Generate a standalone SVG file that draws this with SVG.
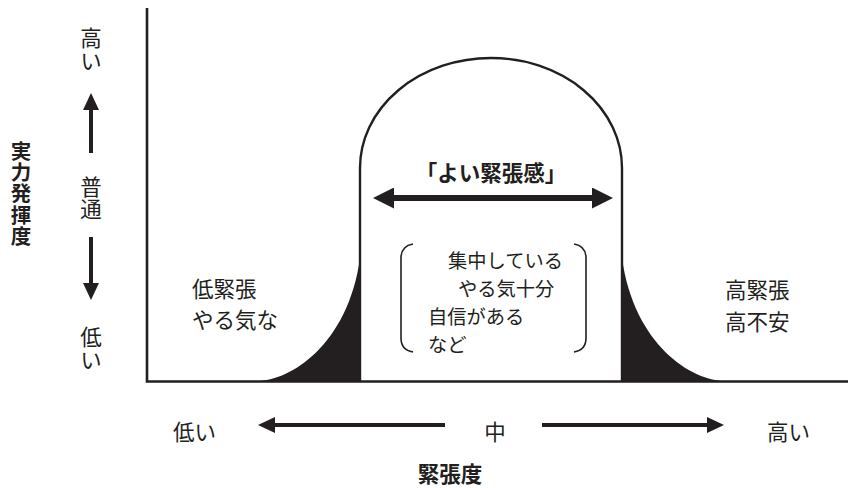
<svg xmlns="http://www.w3.org/2000/svg" width="848" height="488" viewBox="0 0 848 488">
<style>
text{font-family:"Noto Sans CJK JP","Noto Sans",sans-serif;fill:#231f20}
.n{font-size:21.5px}
.v{font-size:20.5px}
.s{font-size:19.3px}
.b{font-weight:bold}
.vt{writing-mode:vertical-rl}
.ln{stroke:#231f20;fill:none}
.fill{fill:#231f20;stroke:none}
</style>
<defs>
<marker id="ah" viewBox="0 0 17 16" markerWidth="17" markerHeight="16" refX="0" refY="8" orient="auto-start-reverse" markerUnits="userSpaceOnUse"><path d="M0,0 L17,8 L0,16 Z" fill="#231f20"/></marker>
<marker id="ah2" viewBox="0 0 21 21" markerWidth="21" markerHeight="21" refX="0" refY="10.5" orient="auto-start-reverse" markerUnits="userSpaceOnUse"><path d="M0,0 L21,10.5 L0,21 Z" fill="#231f20"/></marker>
</defs>
<g id="axes">
<path class="ln" d="M147,8 V381.5 H848" stroke-width="2.6"/>
</g>
<g id="curve">
<path class="fill" d="M257,381 C290,381 348,345 360,258 L360,381 Z"/>
<path class="fill" d="M622,258 C634,345 692,381 725,381 L622,381 Z"/>
<path class="ln" d="M360,381 V168 A131,110 0 0 1 622,168 V381" stroke-width="2.4"/>
</g>
<g id="connectors">
<line class="ln" x1="91" y1="153" x2="91" y2="110" stroke-width="4" marker-end="url(#ah)"/>
<line class="ln" x1="91" y1="237" x2="91" y2="283" stroke-width="4" marker-end="url(#ah)"/>
<line class="ln" x1="445" y1="425" x2="275" y2="425" stroke-width="4" marker-end="url(#ah)"/>
<line class="ln" x1="542" y1="425" x2="707" y2="425" stroke-width="4" marker-end="url(#ah)"/>
<line class="ln" x1="394" y1="198" x2="592" y2="198" stroke-width="6" marker-start="url(#ah2)" marker-end="url(#ah2)"/>
</g>
<g id="y-axis-title">
<text class="v b vt" x="21" y="141" letter-spacing="0.7">実力発揮度</text>
</g>
<g id="y-high">
<text class="n vt" x="91" y="27" letter-spacing="1.5">高い</text>
</g>
<g id="y-mid">
<text class="n vt" x="91" y="176" letter-spacing="0.5">普通</text>
</g>
<g id="y-low">
<text class="n vt" x="91" y="326" letter-spacing="1.5">低い</text>
</g>
<g id="low-tension">
<text class="n"><tspan x="192" y="297">低緊張</tspan><tspan x="192" y="328">やる気な</tspan></text>
</g>
<g id="high-tension">
<text class="n"><tspan x="725" y="298">高緊張</tspan><tspan x="725" y="330">高不安</tspan></text>
</g>
<g id="good-tension">
<text class="n b" x="491" y="181" text-anchor="middle">「よい緊張感」</text>
</g>
<g id="good-details">
<path class="ln" d="M413,244 Q401,246 401,258 V338 Q401,350 413,352" stroke-width="1.6"/>
<path class="ln" d="M574,244 Q586,246 586,258 V338 Q586,350 574,352" stroke-width="1.6"/>
<text class="s"><tspan x="448" y="268">集中している</tspan><tspan x="458" y="296">やる気十分</tspan><tspan x="428" y="324">自信がある</tspan><tspan x="428" y="352">など</tspan></text>
</g>
<g id="x-labels">
<text class="n" font-size="22" x="173" y="440">低い</text>
<text class="n" font-size="22" x="495" y="440" text-anchor="middle">中</text>
<text class="n" font-size="22" x="767" y="440">高い</text>
<text class="n b" font-size="22" x="450" y="482" text-anchor="middle">緊張度</text>
</g>
</svg>
